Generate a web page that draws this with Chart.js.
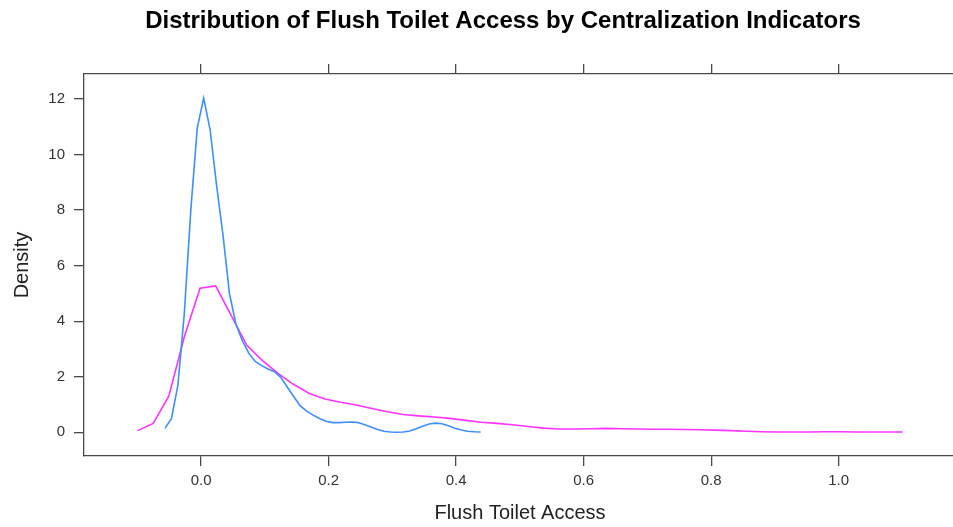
<!DOCTYPE html>
<html>
<head>
<meta charset="utf-8">
<script src="https://cdn.jsdelivr.net/npm/chart.js@4"></script>
<style>
html,body{margin:0;padding:0;overflow:hidden;background:#fff}
#wrap{width:960px;height:527px}
</style>
</head>
<body>
<div id="wrap"><canvas id="c" width="960" height="527"></canvas></div>
<script>
const chartTitle = "Distribution of Flush Toilet Access by Centralization Indicators";
const xAxisTitle = "Flush Toilet Access";
const yAxisTitle = "Density";
const xTickValues = [0.0, 0.2, 0.4, 0.6, 0.8, 1.0];
const yTickValues = [0, 2, 4, 6, 8, 10, 12];
const seriesNames = ["Group A", "Group B"];

// Series A (blue) density curve
const blueX = [-0.0565,-0.0464,-0.0363,-0.0262,-0.0161,-0.0060,0.0041,0.0142,0.0243,0.0344,
  0.0445,0.0546,0.0647,0.0748,0.0849,0.0950,0.1051,0.1152,0.1253,0.1354,
  0.1455,0.1556,0.1657,0.1758,0.1859,0.1960,0.2061,0.2162,0.2263,0.2364,
  0.2465,0.2566,0.2667,0.2768,0.2869,0.2970,0.3071,0.3172,0.3273,0.3374,
  0.3475,0.3576,0.3677,0.3778,0.3879,0.3980,0.4081,0.4182,0.4283,0.4384];
const blueY = [0.14,0.50,1.70,4.30,8.00,10.95,12.03,10.89,8.90,7.10,
  5.00,3.90,3.30,2.85,2.55,2.40,2.28,2.18,1.97,1.62,
  1.28,0.95,0.76,0.62,0.50,0.40,0.35,0.35,0.36,0.37,
  0.35,0.27,0.19,0.10,0.04,0.01,0.00,0.01,0.05,0.13,
  0.22,0.30,0.33,0.31,0.24,0.15,0.08,0.04,0.02,0.01];

// Series B (magenta) density curve
const pinkX = [-0.0996,-0.0751,-0.0506,-0.0261,-0.0016,0.0229,0.0474,0.0718,0.0963,0.1208,
  0.1453,0.1698,0.1943,0.2188,0.2433,0.2678,0.2923,0.3168,0.3412,0.3657,
  0.3902,0.4147,0.4392,0.4637,0.4882,0.5127,0.5372,0.5617,0.5862,0.6106,
  0.6351,0.6596,0.6841,0.7086,0.7331,0.7576,0.7821,0.8066,0.8310,0.8555,
  0.8800,0.9045,0.9290,0.9535,0.9780,1.0025,1.0270,1.0514,1.0759,1.1004];
const pinkY = [0.06,0.32,1.30,3.45,5.19,5.27,4.20,3.13,2.58,2.12,
  1.72,1.40,1.20,1.08,0.98,0.86,0.74,0.64,0.59,0.55,
  0.50,0.43,0.36,0.32,0.27,0.21,0.15,0.12,0.12,0.13,
  0.14,0.13,0.12,0.11,0.11,0.10,0.09,0.08,0.06,0.04,
  0.02,0.01,0.01,0.01,0.02,0.02,0.01,0.01,0.01,0.01];

const FONT = "'Liberation Sans', Arial, Helvetica, sans-serif";
Chart.defaults.font.family = FONT;

const toPts = (xs, ys) => xs.map((x, i) => ({x: x, y: ys[i]}));

const mainTitle = {
  id: 'mainTitle',
  afterDraw(chart) {
    const ctx = chart.ctx;
    ctx.save();
    ctx.font = "bold 24px " + FONT;
    ctx.fillStyle = '#000';
    ctx.textAlign = 'center';
    ctx.textBaseline = 'alphabetic';
    ctx.fillText(chartTitle, 503, 28);
    ctx.restore();
  }
};

const axisColor = '#4a4a4a';
const tickFont = {size: 15};

new Chart(document.getElementById('c'), {
  type: 'scatter',
  data: {
    datasets: [
      {label: seriesNames[0], data: toPts(blueX, blueY), showLine: true, borderColor: '#3d8eff',
       borderWidth: 1.6, pointRadius: 0, tension: 0, fill: false},
      {label: seriesNames[1], data: toPts(pinkX, pinkY), showLine: true, borderColor: '#ff33ff',
       borderWidth: 1.6, pointRadius: 0, tension: 0, fill: false}
    ]
  },
  options: {
    responsive: false,
    animation: false,
    devicePixelRatio: 1,
    layout: {padding: {left: 0, right: 4, top: 0, bottom: 0}},
    plugins: {legend: {display: false}, tooltip: {enabled: false}, title: {display: false}},
    scales: {
      x: {
        type: 'linear', position: 'bottom', min: -0.1836, max: 1.184,
        afterBuildTicks: s => { s.ticks = xTickValues.map(v => ({value: v})); },
        afterFit: s => { s.height = 71; },
        ticks: {callback: v => Number(v).toFixed(1), font: tickFont, color: '#333', padding: 6, maxRotation: 0, autoSkip: false},
        grid: {drawOnChartArea: false, drawTicks: true, tickLength: 10, color: axisColor, lineWidth: 1.3},
        border: {display: true, color: axisColor, width: 1.3},
        title: {display: true, text: xAxisTitle, font: {size: 20}, color: '#222', padding: {top: 0, bottom: 2}}
      },
      x2: {
        type: 'linear', axis: 'x', position: 'top', min: -0.1836, max: 1.184,
        afterBuildTicks: s => { s.ticks = xTickValues.map(v => ({value: v})); },
        afterFit: s => { s.height = 74; },
        ticks: {display: false},
        grid: {drawOnChartArea: false, drawTicks: true, tickLength: 10, color: axisColor, lineWidth: 1.3},
        border: {display: true, color: axisColor, width: 1.3}
      },
      y: {
        type: 'linear', position: 'left', min: -0.853, max: 12.90,
        afterBuildTicks: s => { s.ticks = yTickValues.map(v => ({value: v})); },
        afterFit: s => { s.width = 84; },
        ticks: {callback: v => String(v), font: tickFont, color: '#333', padding: 9},
        grid: {drawOnChartArea: false, drawTicks: true, tickLength: 10, color: axisColor, lineWidth: 1.3},
        border: {display: true, color: axisColor, width: 1.3},
        title: {display: true, text: yAxisTitle, font: {size: 20}, color: '#222', padding: {top: 10, bottom: 0}}
      }
    }
  },
  plugins: [mainTitle]
});
</script>
</body>
</html>
